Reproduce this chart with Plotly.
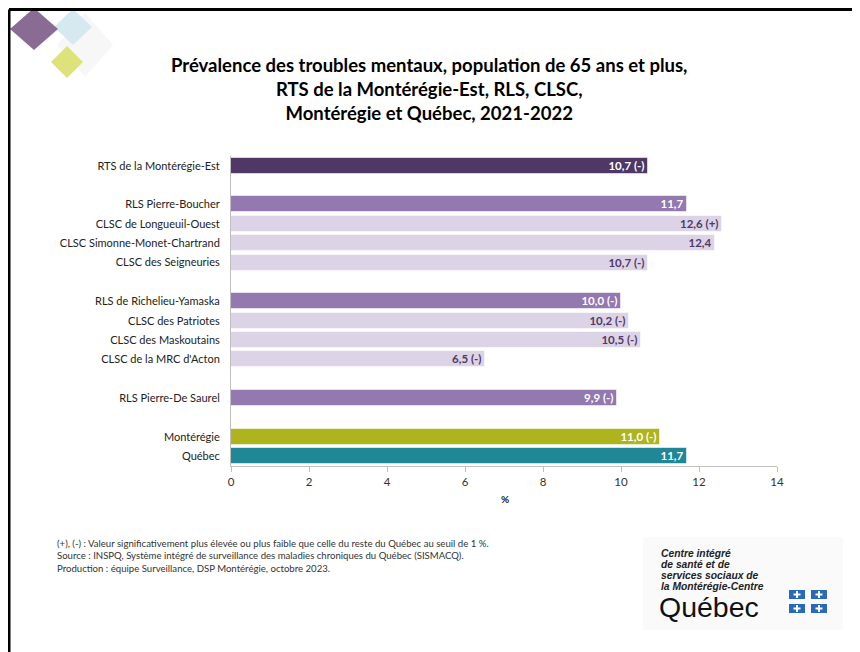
import plotly.graph_objects as go

# rows from top to bottom; None marks an empty spacer row
categories = ["RTS de la Montérégie-Est", None,
              "RLS Pierre-Boucher", "CLSC de Longueuil-Ouest",
              "CLSC Simonne-Monet-Chartrand", "CLSC des Seigneuries", None,
              "RLS de Richelieu-Yamaska", "CLSC des Patriotes",
              "CLSC des Maskoutains", "CLSC de la MRC d'Acton", None,
              "RLS Pierre-De Saurel", None,
              "Montérégie", "Québec"]
values = [10.7, None, 11.7, 12.6, 12.4, 10.7, None,
          10.0, 10.2, 10.5, 6.5, None, 9.9, None, 11.0, 11.7]
flags = ["(-)", None, "", "(+)", "", "(-)", None,
         "(-)", "(-)", "(-)", "(-)", None, "(-)", None, "(-)", ""]
levels = ["rts", None, "rls", "clsc", "clsc", "clsc", None,
          "rls", "clsc", "clsc", "clsc", None, "rls", None, "mont", "qc"]

x_ticks = [0, 2, 4, 6, 8, 10, 12, 14]

bar_colors = {"rts": "#503866", "rls": "#9478b0", "clsc": "#dcd3e7",
              "mont": "#adb41d", "qc": "#1f8795"}
text_colors = {"rts": "white", "rls": "white", "clsc": "#4f3a66",
               "mont": "white", "qc": "white"}

W, H = 860, 652
OFF = 8  # the page body adds an 8 px offset
ML, MR, MT, MB = 231 - OFF, 83 + OFF, 156 - OFF, 186 + OFF

rows = [i for i, v in enumerate(values) if v is not None]
xs = [values[i] for i in rows]
labels = [f"{values[i]:.1f}".replace(".", ",") + (" " + flags[i] if flags[i] else "") for i in rows]

fig = go.Figure(go.Bar(
    x=xs, y=rows, orientation="h", width=0.82,
    marker=dict(color=[bar_colors[levels[i]] for i in rows],
                line=dict(color="rgba(255,255,255,0.55)", width=1)),
    text=labels, textposition="inside", insidetextanchor="end",
    constraintext="none",
    textfont=dict(family="Lato", size=11.5, weight="bold",
                  color=[text_colors[levels[i]] for i in rows]),
    textangle=0, cliponaxis=False, hoverinfo="skip",
))


def px(x, y):
    # page pixel -> paper coordinates
    x, y = x - OFF, y - OFF
    return (x - ML) / (W - ML - MR), 1 - (y - MT) / (H - MT - MB)


def poly(pts, color):
    pp = [px(x, y) for x, y in pts]
    path = "M " + " L ".join(f"{a},{b}" for a, b in pp) + " Z"
    return dict(type="path", xref="paper", yref="paper", path=path,
                fillcolor=color, line=dict(width=0))


def diamond(cx, cy, rx, ry, color):
    return poly([(cx, cy - ry), (cx + rx, cy), (cx, cy + ry), (cx - rx, cy)], color)


shapes = [
    diamond(85, 45, 28, 32, "#f7f7f7"),
    diamond(73, 27, 19, 18, "#d6e9f0"),
    diamond(34, 29, 24, 21, "#8a6b94"),
    diamond(67, 62, 16, 16, "#dde27a"),
]
# frame lines
x0, y0 = px(9, 9.5)
x1, _ = px(W + 20, 9.5)
_, y1 = px(9, H + 20)
shapes.append(dict(type="line", xref="paper", yref="paper", x0=x0, y0=y0, x1=x1, y1=y0,
                   line=dict(color="black", width=3)))
shapes.append(dict(type="line", xref="paper", yref="paper", x0=x0, y0=y0, x1=x0, y1=y1,
                   line=dict(color="black", width=3)))
# logo background
lx0, ly0 = px(643, 537)
lx1, ly1 = px(843, 630)
shapes.append(dict(type="rect", xref="paper", yref="paper", x0=lx0, y0=ly0, x1=lx1, y1=ly1,
                   fillcolor="#fafafa", line=dict(width=0), layer="below"))
# flag squares with a small white emblem
flag_boxes = [(789, 590), (811, 590), (789, 604), (811, 604)]
for fx, fy in flag_boxes:
    a0, b0 = px(fx, fy)
    a1, b1 = px(fx + 16, fy + 9)
    shapes.append(dict(type="rect", xref="paper", yref="paper", x0=a0, y0=b0, x1=a1, y1=b1,
                       fillcolor="#2a69b8", line=dict(width=0)))
    cx, cy = fx + 8, fy + 4.5
    shapes.append(poly([(cx - 1, cy - 3.5), (cx + 1, cy - 3.5), (cx + 1, cy - 1), (cx + 3.5, cy - 1),
                        (cx + 3.5, cy + 1), (cx + 1, cy + 1), (cx + 1, cy + 3.5), (cx - 1, cy + 3.5),
                        (cx - 1, cy + 1), (cx - 3.5, cy + 1), (cx - 3.5, cy - 1), (cx - 1, cy - 1)],
                       "white"))

annotations = []
tx, ty = px(429, 89)
annotations.append(dict(
    xref="paper", yref="paper", x=tx, y=ty, xanchor="center", yanchor="middle",
    showarrow=False, align="center",
    text="<b>Prévalence des troubles mentaux, population de 65 ans et plus,<br>"
         "RTS de la Montérégie-Est, RLS, CLSC,<br>Montérégie et Québec, 2021-2022</b>",
    font=dict(family="Lato", size=18.5, color="black")))
ux, uy = px(505, 507)
annotations.append(dict(xref="paper", yref="paper", x=ux, y=uy, showarrow=False,
                        text="<b>%</b>", font=dict(family="Lato", size=10, color="#222")))
nx, ny = px(55, 556)
annotations.append(dict(
    xref="paper", yref="paper", x=nx, y=ny, xanchor="left", yanchor="middle",
    showarrow=False, align="left",
    text="(+), (-) : Valeur significativement plus élevée ou plus faible que celle du reste du Québec au seuil de 1 %.<br>"
         "Source : INSPQ, Système intégré de surveillance des maladies chroniques du Québec (SISMACQ).<br>"
         "Production : équipe Surveillance, DSP Montérégie, octobre 2023.",
    font=dict(family="Lato", size=9.6, color="#333")))
logo_lines = ["Centre intégré", "de santé et de", "services sociaux de", "la Montérégie-Centre"]
for k, line in enumerate(logo_lines):
    gx, gy = px(659, 553 + 11.3 * k)
    annotations.append(dict(
        xref="paper", yref="paper", x=gx, y=gy, xanchor="left", yanchor="middle",
        showarrow=False, text=f"<b><i>{line}</i></b>",
        font=dict(family="Liberation Sans", size=10.3, color="#222")))
qx, qy = px(657, 607)
annotations.append(dict(
    xref="paper", yref="paper", x=qx, y=qy, xanchor="left", yanchor="middle",
    showarrow=False, text="Québec",
    font=dict(family="Liberation Sans", size=28.5, color="#111")))

fig.update_layout(
    width=W, height=H,
    margin=dict(l=ML, r=MR, t=MT, b=MB),
    paper_bgcolor="white", plot_bgcolor="white",
    showlegend=False, bargap=0,
    shapes=shapes, annotations=annotations,
    font=dict(family="Lato", color="#222"),
)
fig.update_xaxes(range=[0, 14], tickvals=x_ticks, ticktext=[str(t) for t in x_ticks],
                 showgrid=False, zeroline=False, showline=True, linecolor="#bfbfbf",
                 linewidth=1, ticks="outside", tickcolor="#bfbfbf", ticklen=5,
                 tickfont=dict(family="Lato", size=11.5, color="#333"))
fig.update_yaxes(range=[len(categories) - 0.5, -0.5], tickvals=rows,
                 ticktext=[categories[i] for i in rows],
                 showgrid=False, zeroline=False, showline=True, linecolor="#bfbfbf",
                 linewidth=1, ticks="", ticklabelstandoff=8,
                 tickfont=dict(family="Lato", size=11, color="#222"))

fig.write_html("out.html")
